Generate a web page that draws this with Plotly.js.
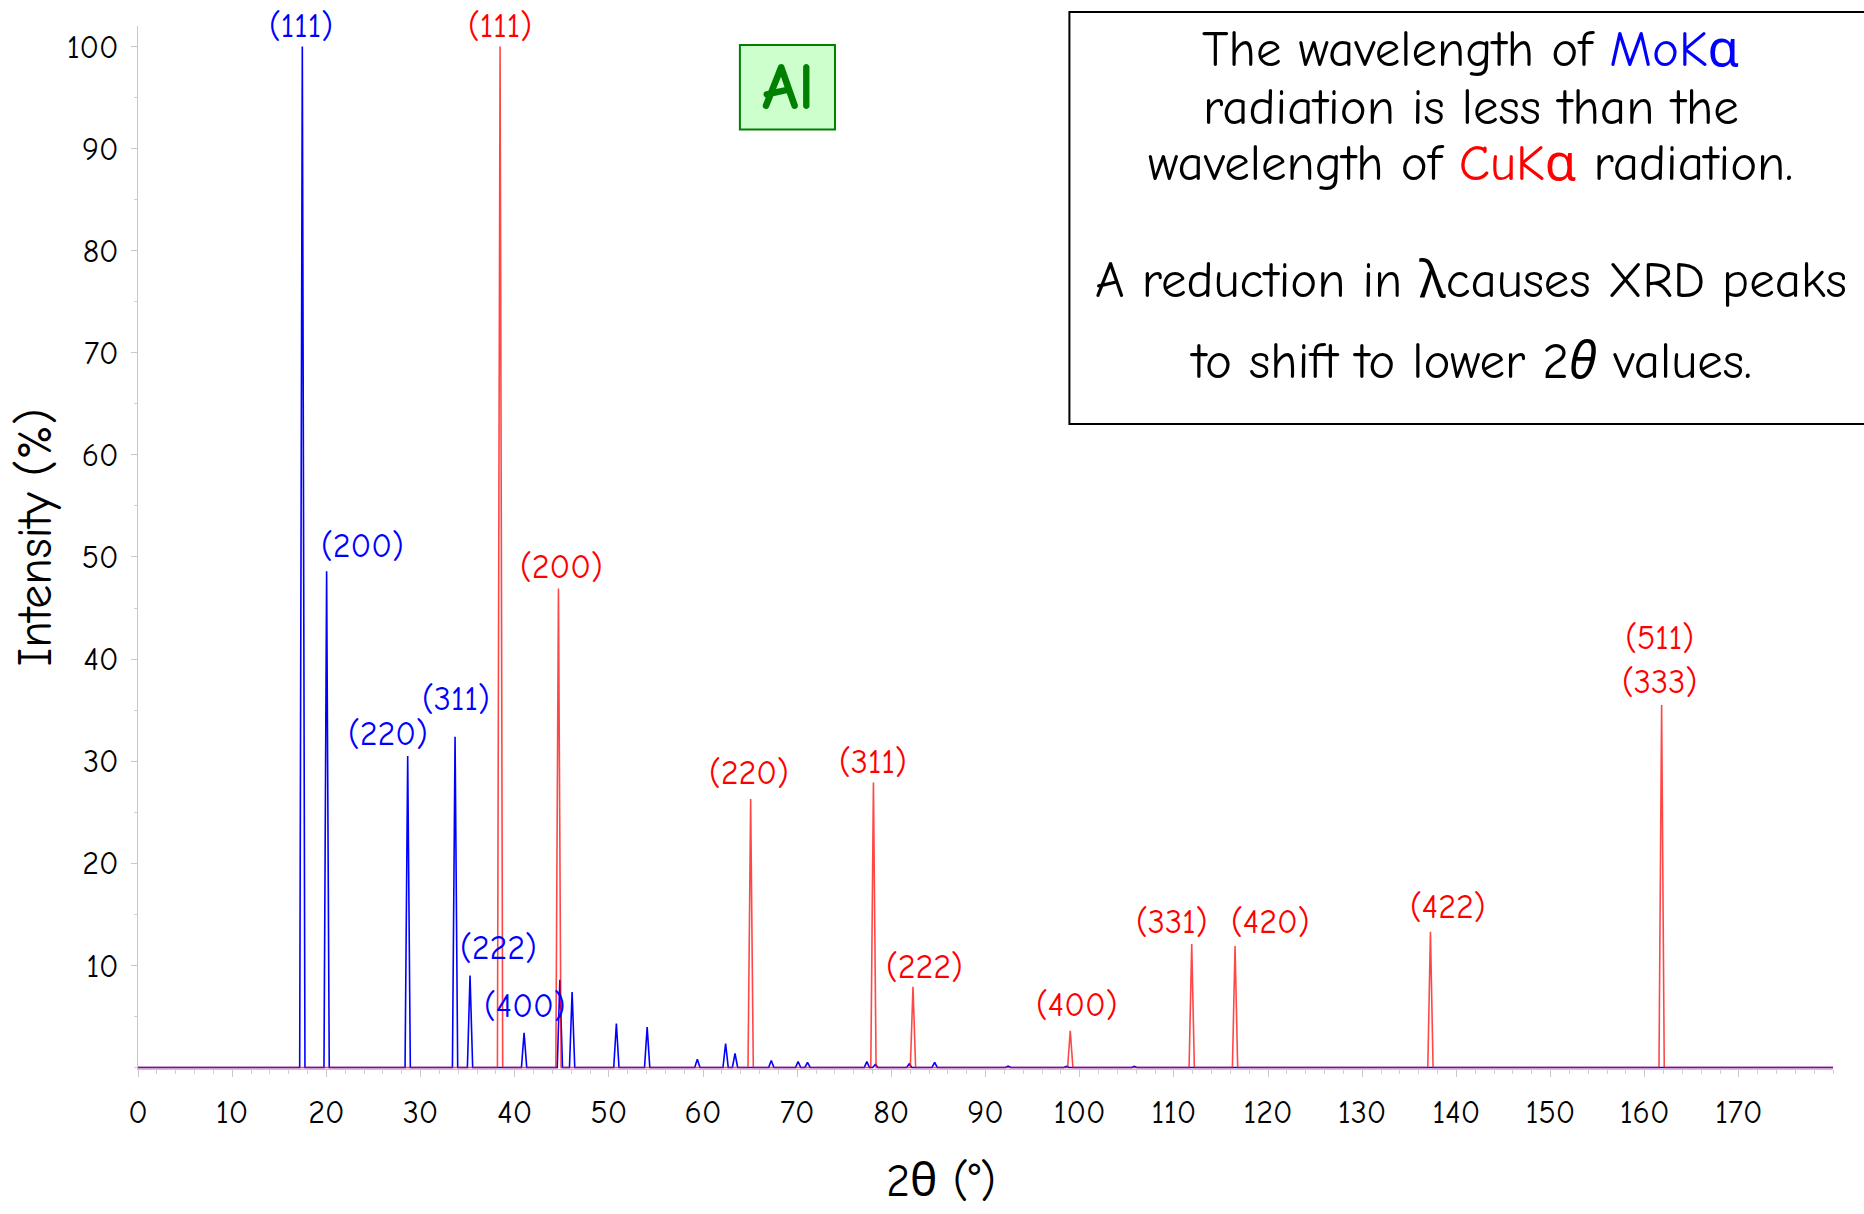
<!DOCTYPE html>
<html>
<head>
<meta charset="utf-8">
<script src="https://cdn.plot.ly/plotly-3.0.1.min.js"></script>
<style>html,body{margin:0;padding:0;background:#fff;}#chart{width:1864px;height:1214px;}</style>
</head>
<body>
<div id="chart"></div>
<script>
// ---- Data ----
// Mo K-alpha pattern of Al: peak positions (2θ, °) and relative intensities (%)
const moPos = [17.45, 20.03, 28.64, 33.67, 35.26, 41.0, 44.8, 46.1, 50.8, 54.07, 59.4, 62.4, 63.4, 67.25, 70.1, 71.1, 77.4, 78.3, 81.9, 84.6, 92.4, 98.6, 105.8];
const moInt = [100, 48.6, 30.5, 32.4, 9.0, 3.4, 8.6, 7.4, 4.3, 3.95, 0.8, 2.35, 1.37, 0.68, 0.58, 0.49, 0.58, 0.3, 0.35, 0.49, 0.13, 0.1, 0.1];
const moHkl = ['(111)', '(200)', '(220)', '(311)', '(222)', '(400)'];

// Cu K-alpha pattern of Al
const cuPos = [38.45, 44.65, 65.06, 78.1, 82.3, 99.0, 111.9, 116.5, 137.25, 161.8];
const cuInt = [100, 46.9, 26.3, 27.9, 7.9, 3.6, 12.1, 11.9, 13.3, 35.5];
const cuHkl = ['(111)', '(200)', '(220)', '(311)', '(222)', '(400)', '(331)', '(420)', '(422)', '(511)<br>(333)'];

const xTickVals = [0, 10, 20, 30, 40, 50, 60, 70, 80, 90, 100, 110, 120, 130, 140, 150, 160, 170];
const yTickVals = [10, 20, 30, 40, 50, 60, 70, 80, 90, 100];

// ---- Layout / style settings ----
const X_MAX = 180;
const HALF_W = 0.28; // drawing half-width of each peak spike (deg)
const FONT = '"Comic Sans MS", "Comic Neue", "Noto Sans", sans-serif';
const BLUE = '#0000ff', RED = '#ff0000';
// label offsets in pixels relative to each peak top [xshift, yshift]
const moLabelShift = [[-1, 20], [36, 25], [-20, 22], [1, 38], [28, 28], [0, 27]];
const cuLabelShift = [[0, 20], [3, 22], [-2, 26], [0, 21], [12, 20], [6, 26], [-20, 22], [35, 24], [18, 25], [-2, 45]];

function spikes(pos, inten) {
  const xs = [0], ys = [0];
  pos.forEach((p, i) => {
    xs.push(p - HALF_W, p, p + HALF_W);
    ys.push(0, inten[i], 0);
  });
  xs.push(X_MAX); ys.push(0);
  return {x: xs, y: ys};
}

const mo = spikes(moPos, moInt);
const cu = spikes(cuPos, cuInt);

const traces = [
  {x: mo.x, y: mo.y, type: 'scatter', mode: 'lines', line: {color: BLUE, width: 1.6}, hoverinfo: 'skip', name: 'MoKα'},
  {x: cu.x, y: cu.y, type: 'scatter', mode: 'lines', line: {color: 'rgba(255,0,0,0.72)', width: 1.6}, hoverinfo: 'skip', name: 'CuKα'}
];

const annotations = [];
moHkl.forEach((t, i) => annotations.push({
  x: moPos[i], y: moInt[i], xref: 'x', yref: 'y', text: t, showarrow: false,
  xanchor: 'center', yanchor: 'middle', xshift: moLabelShift[i][0], yshift: moLabelShift[i][1],
  font: {family: FONT, size: 34, color: BLUE}
}));
cuHkl.forEach((t, i) => annotations.push({
  x: cuPos[i], y: cuInt[i], xref: 'x', yref: 'y', text: t, showarrow: false,
  xanchor: 'center', yanchor: 'middle', xshift: cuLabelShift[i][0], yshift: cuLabelShift[i][1],
  font: {family: FONT, size: 34, color: RED}
}));

// text box lines
const boxX = 0.7863;
const boxLines = [
  ['The wavelength of <span style="color:#0000ff">MoKα</span>', 0.977],
  ['radiation is less than the', 0.9223],
  ['wavelength of <span style="color:#ff0000">CuKα</span> radiation.', 0.8677],
  ['A reduction in λcauses XRD peaks', 0.756],
  ['to shift to lower 2<i>θ</i> values.', 0.6788]
];
boxLines.forEach(l => annotations.push({
  x: boxX, y: l[1], xref: 'paper', yref: 'paper', text: l[0], showarrow: false,
  xanchor: 'center', yanchor: 'middle', font: {family: FONT, size: 51, color: '#000'}
}));

// Al label
annotations.push({
  x: 0.3832, y: 0.941, xref: 'paper', yref: 'paper', text: '<b>Al</b>', showarrow: false,
  xanchor: 'center', yanchor: 'middle', font: {family: FONT, size: 66, color: '#008000'}
});

// axis titles
annotations.push({
  x: 0.474, y: -0.108, xref: 'paper', yref: 'paper', text: '2θ (°)', showarrow: false,
  xanchor: 'center', yanchor: 'middle', font: {family: FONT, size: 46, color: '#000'}
});
annotations.push({
  x: -0.0605, y: 0.51, xref: 'paper', yref: 'paper', text: 'Intensity (%)', showarrow: false,
  textangle: -90, xanchor: 'center', yanchor: 'middle', font: {family: FONT, size: 48, color: '#000'}
});

const shapes = [
  {type: 'rect', xref: 'paper', yref: 'paper', x0: 0.5495, x1: 1.04, y0: 0.6184, y1: 1.0134,
   line: {color: '#000', width: 2}, fillcolor: '#ffffff', layer: 'below'},
  {type: 'rect', xref: 'paper', yref: 'paper', x0: 0.3551, x1: 0.4112, y0: 0.9007, y1: 0.9818,
   line: {color: '#008000', width: 2}, fillcolor: '#ccffcc', layer: 'below'}
];

const layout = {
  width: 1864, height: 1214,
  margin: {l: 138, r: 31, t: 26, b: 145, pad: 0},
  paper_bgcolor: '#fff', plot_bgcolor: '#fff',
  showlegend: false,
  font: {family: FONT, color: '#000'},
  xaxis: {
    range: [0, X_MAX], tickmode: 'array', tickvals: xTickVals,
    ticks: 'outside', ticklen: 7, tickcolor: '#c8c8c8', tickwidth: 1,
    minor: {dtick: 2, ticks: 'outside', ticklen: 4, tickcolor: '#d0d0d0'},
    showline: true, linecolor: '#c8c8c8', linewidth: 1,
    showgrid: false, zeroline: false,
    tickfont: {family: FONT, size: 32, color: '#000'}, ticklabelstandoff: 8
  },
  yaxis: {
    range: [-0.15, 102], tickmode: 'array', tickvals: yTickVals,
    ticks: 'outside', ticklen: 6, tickcolor: '#c8c8c8', tickwidth: 1,
    minor: {dtick: 5, ticks: 'outside', ticklen: 3, tickcolor: '#d0d0d0'},
    showline: true, linecolor: '#c8c8c8', linewidth: 1,
    showgrid: false, zeroline: false,
    tickfont: {family: FONT, size: 32, color: '#000'}, ticklabelstandoff: 6
  },
  annotations: annotations,
  shapes: shapes
};

Plotly.newPlot('chart', traces, layout, {displayModeBar: false, staticPlot: true});
</script>
</body>
</html>
